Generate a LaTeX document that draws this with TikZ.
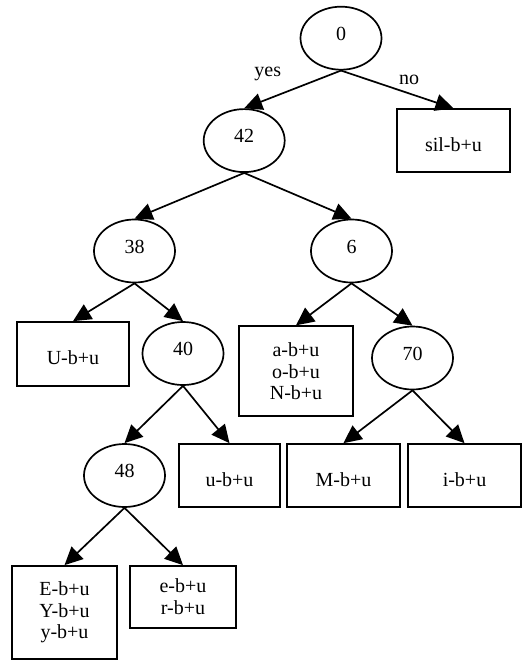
\documentclass[tikz,border=0pt]{standalone}
\usepackage{fontspec}
\setmainfont{Liberation Serif}
\usetikzlibrary{shapes.geometric,arrows.meta}
\tikzset{
  basenode/.style={draw, line width=1.7pt, inner sep=0pt, font=\fontsize{20}{21.7}\selectfont},
  ell/.style={basenode, ellipse, minimum width=81pt, minimum height=63pt, text height=10pt, text depth=5.4pt},
  leaf/.style={basenode, rectangle, text height=22pt, text depth=1pt},
  multileaf/.style={basenode, rectangle, align=center},
  edge/.style={line width=1.7pt, -{Triangle[length=18pt,width=17pt]}},
  lab/.style={font=\fontsize{20}{21.7}\selectfont, inner sep=0pt, anchor=base},
}
\begin{document}
\begin{tikzpicture}[x=1pt,y=-1pt]
\useasboundingbox[fill=white] (0,0) rectangle (525,661);
% internal nodes
\node[ell] (n0)  at (341,38.2) {0};
\node[ell] (n42) at (244.2,140.6) {42};
\node[ell] (n38) at (134.5,251) {38};
\node[ell] (n6)  at (351.5,251) {6};
\node[ell] (n40) at (183,353.5) {40};
\node[ell] (n70) at (412.5,358) {70};
\node[ell] (n48) at (124.5,475.5) {48};
% leaves
\node[leaf, minimum width=113pt, minimum height=63pt] (sil) at (453.5,140.7) {sil-b+u};
\node[leaf, minimum width=112pt, minimum height=64pt] (lU) at (73,354) {U-b+u};
\node[multileaf, minimum width=114pt, minimum height=90pt] (la) at (296,371.2) {a-b+u\\o-b+u\\N-b+u};
\node[leaf, minimum width=101pt, minimum height=63pt] (lu) at (229.5,475.5) {u-b+u};
\node[leaf, minimum width=113pt, minimum height=63pt] (lM) at (343.5,475.5) {M-b+u};
\node[leaf, minimum width=113pt, minimum height=63pt] (li) at (464.5,475.5) {i-b+u};
\node[multileaf, minimum width=105pt, minimum height=93pt] (lE) at (64.5,612.5) {E-b+u\\Y-b+u\\y-b+u};
\node[multileaf, minimum width=106pt, minimum height=62pt] (le) at (183,597) {e-b+u\\r-b+u};
% edges
\draw[edge] (n0.south) -- (n42.north);
\draw[edge] (n0.south) -- (sil.north);
\draw[edge] (n42.south) -- (n38.north);
\draw[edge] (n42.south) -- (n6.north);
\draw[edge] (n38.south) -- (lU.north);
\draw[edge] (n38.south) -- (n40.north);
\draw[edge] (n6.south) -- (la.north);
\draw[edge] (n6.south) -- (n70.north);
\draw[edge] (n40.south) -- (n48.north);
\draw[edge] (n40.south) -- (lu.north);
\draw[edge] (n70.south) -- (lM.north);
\draw[edge] (n70.south) -- (li.north);
\draw[edge] (n48.south) -- (lE.north);
\draw[edge] (n48.south) -- (le.north);
% edge labels
\node[lab] (lyes) at (267.8,76.7) {yes};
\node[lab] (lno) at (409.2,84.3) {no};
\end{tikzpicture}
\end{document}
